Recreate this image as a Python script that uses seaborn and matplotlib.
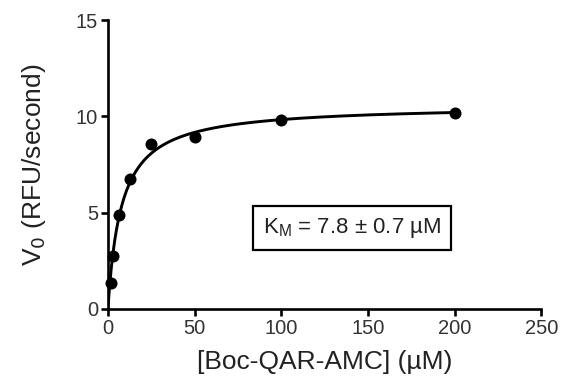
import numpy as np
import pandas as pd
import seaborn as sns
import matplotlib.pyplot as plt

# substrate concentrations (uM) and initial velocities (RFU/s)
conc = [1.5625, 3.125, 6.25, 12.5, 25, 50, 100, 200]
v0 = [1.35, 2.75, 4.88, 6.75, 8.56, 8.93, 9.81, 10.17]

# Michaelis-Menten fit parameters
km = 7.8
km_err = 0.7
vmax = 10.6

x_ticks = [0, 50, 100, 150, 200, 250]
y_ticks = [0, 5, 10, 15]

pts = pd.DataFrame({'S': conc, 'V': v0})
xfit = np.linspace(0, 200, 400)
fit = pd.DataFrame({'S': xfit, 'V': vmax * xfit / (km + xfit)})

sns.set_style('ticks')
plt.rcParams['font.family'] = ['Liberation Sans', 'DejaVu Sans']

fig = plt.figure(figsize=(5.62, 3.88), dpi=100)
ax = fig.add_axes([0.192, 0.204, 0.771, 0.744])

sns.lineplot(data=fit, x='S', y='V', color='black', linewidth=2.1, ax=ax)
sns.scatterplot(data=pts, x='S', y='V', color='black', s=75, edgecolor='black',
                linewidth=0, zorder=5, clip_on=False, ax=ax)

ax.set_xlim(0, 250)
ax.set_ylim(0, 15)
ax.set_xticks(x_ticks)
ax.set_yticks(y_ticks)
sns.despine(ax=ax)
for s in ['left', 'bottom']:
    ax.spines[s].set_linewidth(1.9)
    ax.spines[s].set_color('black')
ax.tick_params(width=1.9, length=5, labelsize=14.5, colors='black', pad=2)
for lab in ax.get_xticklabels() + ax.get_yticklabels():
    lab.set_color('#333333')

ax.set_xlabel('[Boc-QAR-AMC] (\u00b5M)', fontsize=19, color='#222222', labelpad=9)
ax.set_ylabel('V$_0$ (RFU/second)', fontsize=19, color='#222222', labelpad=20)

ax.text(141, 4.2, f'K$_\\mathregular{{M}}$ = {km} \u00b1 {km_err} \u00b5M', fontsize=16,
        ha='center', va='center', color='#222222',
        bbox=dict(boxstyle='square,pad=0.45', facecolor='white', edgecolor='black', linewidth=1.6))

fig.savefig('out.png', dpi=100)
